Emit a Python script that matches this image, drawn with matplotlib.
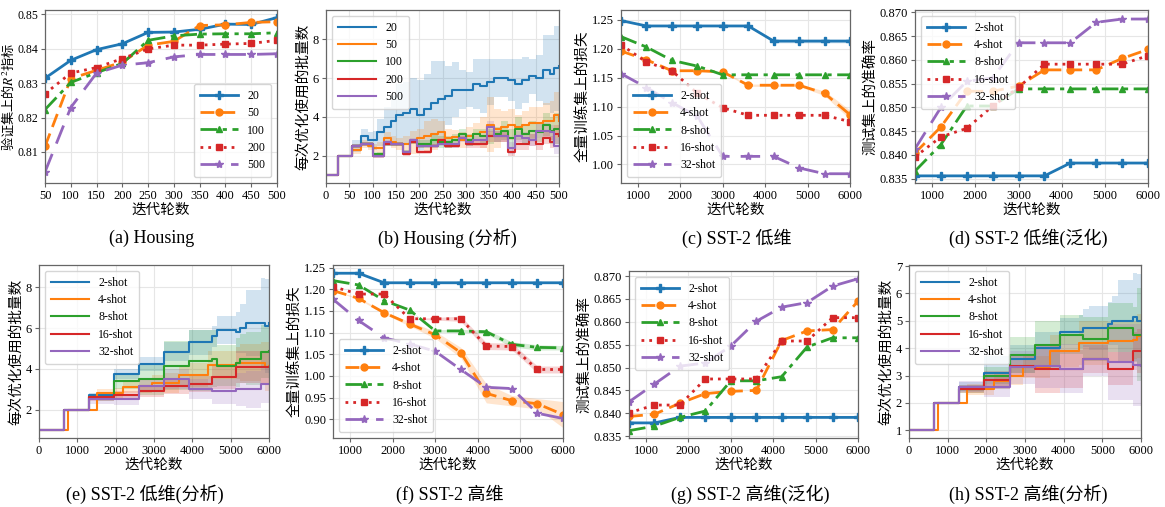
import numpy as np
import matplotlib
matplotlib.use("Agg")
from matplotlib import pyplot as plt

plt.rcParams['font.family'] = ['Liberation Serif', 'Noto Sans CJK SC', 'DejaVu Sans']
plt.rcParams['mathtext.fontset'] = 'stix'
plt.rcParams['axes.unicode_minus'] = False

C = ['#1f77b4', '#ff7f0e', '#2ca02c', '#d62728', '#9467bd']
MK = ['P', 'o', '^', 's', '*']
LS = ['-', (0, (5, 2.5)), (0, (6, 2, 1.5, 2)), (0, (1, 1.8)), (0, (7, 4))]

shots = ['2-shot', '4-shot', '8-shot', '16-shot', '32-shot']

# (a) Housing
a_x = [50, 100, 150, 200, 250, 300, 350, 400, 450, 500]
a_labels = ['20', '50', '100', '200', '500']
a_20 = [0.8314, 0.8366, 0.8397, 0.8414, 0.8447, 0.8448, 0.8456, 0.8471, 0.8470, 0.8490]
a_50 = [0.8116, 0.8313, 0.8337, 0.8361, 0.8410, 0.8421, 0.8467, 0.8469, 0.8476, 0.8478]
a_100 = [0.8223, 0.8302, 0.8330, 0.8357, 0.8424, 0.8437, 0.8442, 0.8443, 0.8443, 0.8446]
a_200 = [0.8269, 0.8329, 0.8345, 0.8371, 0.8399, 0.8410, 0.8410, 0.8413, 0.8415, 0.8424]
a_500 = [0.8042, 0.8229, 0.8329, 0.8352, 0.8359, 0.8376, 0.8383, 0.8383, 0.8383, 0.8385]

# (b) Housing (analysis) - step curves, mean and spread
b_x = [0, 25, 55, 75, 90, 100, 110, 125, 140, 150, 165, 180, 195, 210, 225, 240, 255,
       270, 285, 300, 315, 330, 345, 360, 375, 390, 405, 420, 435, 450, 465, 480, 490, 500]
b_20 = [1, 2, 2.5, 3.0, 2.8, 2.8, 3.2, 3.5, 3.8, 4.1, 4.2, 4.4, 4.1, 4.4, 4.7, 4.9, 5.1,
        5.4, 5.4, 5.4, 5.7, 5.6, 5.8, 6.0, 6.0, 5.9, 5.7, 5.9, 6.1, 6.0, 6.4, 6.2, 6.5, 6.6]
b_20_sd = [0, 0, 0.3, 0.4, 0.4, 0.5, 0.7, 1.0, 1.3, 1.6, 1.6, 1.6, 1.8, 1.8, 2.2, 2.0, 1.5,
           1.4, 1.0, 0.9, 1.3, 1.4, 1.2, 1.0, 1.0, 1.1, 1.3, 1.2, 0.9, 1.2, 1.8, 2.0, 2.2, 1.8]
b_50 = [1, 2, 2.3, 2.6, 2.5, 2.4, 2.4, 2.9, 2.7, 2.6, 2.6, 2.7, 2.9, 3.0, 3.1, 3.2, 2.9,
        2.95, 2.8, 3.0, 3.1, 3.2, 3.6, 3.4, 3.5, 3.6, 3.5, 3.6, 3.7, 3.7, 3.8, 3.8, 4.1, 3.8]
b_50_sd = [0, 0, 0.2, 0.2, 0.2, 0.2, 0.3, 0.3, 0.3, 0.3, 0.4, 0.6, 0.5, 0.8, 0.8, 0.6, 0.5,
           0.4, 0.4, 0.5, 0.6, 0.8, 1.4, 1.0, 0.8, 0.8, 0.6, 0.7, 0.8, 0.8, 0.9, 1.0, 1.2, 1.4]
b_100 = [1, 2, 2.5, 2.6, 2.6, 2.1, 2.1, 2.6, 2.6, 2.6, 2.2, 2.7, 2.6, 2.6, 2.8, 2.7, 2.7,
         2.8, 3.1, 2.8, 3.1, 3.0, 3.0, 3.1, 3.3, 2.9, 3.4, 3.1, 3.3, 3.2, 3.6, 3.3, 3.4, 3.4]
b_100_sd = [0, 0, 0.1, 0.1, 0.1, 0.1, 0.1, 0.1, 0.1, 0.1, 0.1, 0.1, 0.2, 0.2, 0.3, 0.3, 0.3,
            0.3, 0.3, 0.3, 0.3, 0.4, 0.4, 0.4, 0.5, 0.5, 0.6, 0.5, 0.5, 0.5, 0.6, 0.7, 0.8, 0.8]
b_200 = [1, 2, 2.5, 2.6, 2.6, 2.0, 2.0, 2.6, 2.6, 2.6, 2.1, 2.7, 2.2, 2.2, 2.5, 2.8, 2.5,
         2.5, 2.9, 2.6, 2.6, 2.6, 3.0, 3.0, 3.0, 2.2, 2.6, 2.6, 2.8, 2.6, 2.9, 2.7, 3.1, 3.0]
b_200_sd = [0, 0, 0.1, 0.1, 0.1, 0.1, 0.1, 0.1, 0.1, 0.1, 0.1, 0.1, 0.1, 0.1, 0.1, 0.1, 0.1,
            0.1, 0.1, 0.2, 0.2, 0.2, 0.3, 0.3, 0.3, 0.2, 0.3, 0.3, 0.3, 0.3, 0.3, 0.3, 0.5, 0.5]
b_500 = [1, 2, 2.5, 2.6, 2.6, 2.0, 2.0, 2.7, 2.6, 2.6, 2.2, 2.8, 2.5, 2.5, 2.5, 2.6, 2.6,
         2.6, 2.9, 2.7, 2.8, 2.8, 3.5, 3.0, 3.0, 2.4, 3.0, 2.9, 2.8, 3.3, 3.3, 3.2, 2.5, 2.5]
b_500_sd = [0, 0, 0.1, 0.1, 0.1, 0.1, 0.1, 0.1, 0.1, 0.1, 0.1, 0.1, 0.1, 0.1, 0.1, 0.1, 0.2,
            0.2, 0.2, 0.2, 0.2, 0.2, 0.3, 0.3, 0.3, 0.3, 0.3, 0.3, 0.3, 0.4, 0.4, 0.4, 0.4, 0.4]

# shared iteration axis for SST-2 marker panels
it_x = [600, 1200, 1800, 2400, 3000, 3600, 4200, 4800, 5400, 6000]

# (c) SST-2 low-dim, training loss
c_2 = [1.2487, 1.2394, 1.2394, 1.2394, 1.2394, 1.2394, 1.2133, 1.2133, 1.2133, 1.2133]
c_4 = [1.196, 1.181, 1.162, 1.162, 1.160, 1.137, 1.137, 1.137, 1.123, 1.086]
c_8 = [1.221, 1.203, 1.180, 1.170, 1.155, 1.155, 1.155, 1.155, 1.155, 1.155]
c_16 = [1.207, 1.177, 1.162, 1.123, 1.098, 1.085, 1.085, 1.085, 1.085, 1.074]
c_32 = [1.157, 1.133, 1.107, 1.083, 1.014, 1.014, 1.014, 0.994, 0.984, 0.984]
c_2_sd = [0, 0, 0, 0, 0, 0.001, 0.003, 0.003, 0.003, 0.003]
c_4_sd = [0, 0, 0, 0, 0.001, 0.002, 0.002, 0.002, 0.004, 0.008]

# (d) SST-2 low-dim, test accuracy
d_2 = [0.8356, 0.8356, 0.8356, 0.8356, 0.8356, 0.8356, 0.8383, 0.8383, 0.8383, 0.8383]
d_4 = [0.8404, 0.8459, 0.8534, 0.8534, 0.8545, 0.8579, 0.8579, 0.8579, 0.8603, 0.8622]
d_8 = [0.8366, 0.8422, 0.8503, 0.8503, 0.8539, 0.8539, 0.8539, 0.8539, 0.8539, 0.8539]
d_16 = [0.8396, 0.8438, 0.8456, 0.8503, 0.8542, 0.8591, 0.8591, 0.8591, 0.8591, 0.8609]
d_32 = [0.8413, 0.8500, 0.8555, 0.8562, 0.8636, 0.8636, 0.8636, 0.8679, 0.8686, 0.8686]

# (e)/(h) step grid
s_x = [0, 650, 750, 1300, 1500, 1950, 2200, 2600, 2950, 3250, 3650, 3900, 4400, 4500,
       4650, 5150, 5250, 5400, 5800, 5900, 6000]

# (e) SST-2 low-dim (analysis)
e_2 = [1, 2, 2, 2.7, 2.7, 3.75, 3.75, 4.25, 4.25, 4.85, 4.85, 5.3, 5.3, 5.6, 5.9, 5.8, 6.0, 6.25, 6.25, 6.1, 6.25]
e_4 = [1, 1, 2, 2, 2.8, 2.8, 3.1, 3.15, 3.3, 3.3, 3.7, 3.7, 4.2, 4.2, 4.2, 4.3, 4.3, 4.3, 4.3, 4.1, 4.15]
e_8 = [1, 2, 2, 2.6, 2.6, 3.4, 3.4, 3.5, 3.5, 4.15, 4.15, 4.4, 4.4, 4.5, 4.15, 4.3, 4.5, 4.5, 4.85, 4.85, 4.9]
e_16 = [1, 2, 2, 2.6, 2.6, 2.7, 2.7, 2.9, 2.9, 3.15, 3.15, 3.25, 3.25, 3.6, 3.6, 4.1, 4.1, 4.1, 4.1, 4.1, 4.1]
e_32 = [1, 2, 2, 2.5, 2.5, 2.5, 2.5, 3.15, 3.15, 3.5, 3.5, 3.0, 3.0, 2.9, 2.9, 3.0, 3.0, 3.0, 3.25, 3.25, 3.25]
e_2_sd = [0, 0, 0, 0.12, 0.12, 0.25, 0.25, 0.35, 0.35, 0.45, 0.45, 0.6, 0.6, 0.5, 0.7, 1.0, 1.2, 1.6, 2.2, 2.3, 2.3]
e_4_sd = [0, 0, 0, 0, 0.2, 0.25, 0.3, 0.35, 0.4, 0.5, 0.5, 0.6, 0.7, 0.7, 0.7, 0.8, 0.9, 0.9, 1.0, 1.2, 1.2]
e_8_sd = [0, 0, 0, 0.1, 0.15, 0.4, 0.4, 0.8, 0.8, 1.2, 1.2, 1.5, 1.5, 1.4, 1.0, 1.2, 1.2, 1.3, 1.3, 1.3, 1.3]
e_16_sd = [0, 0, 0, 0.15, 0.15, 0.2, 0.2, 0.3, 0.3, 0.4, 0.4, 0.4, 0.4, 0.6, 0.6, 0.8, 0.8, 0.8, 0.8, 0.8, 0.8]
e_32_sd = [0, 0, 0, 0.2, 0.2, 0.25, 0.25, 0.3, 0.3, 0.5, 0.5, 0.5, 0.5, 0.6, 0.6, 0.8, 0.8, 0.9, 0.9, 0.9, 0.9]

# (f) SST-2 high-dim, training loss
f_2 = [1.237, 1.237, 1.215, 1.215, 1.215, 1.215, 1.215, 1.215, 1.215, 1.215]
f_4 = [1.197, 1.179, 1.146, 1.120, 1.095, 1.054, 0.960, 0.943, 0.936, 0.911]
f_8 = [1.220, 1.210, 1.174, 1.152, 1.104, 1.104, 1.102, 1.073, 1.066, 1.065]
f_16 = [1.206, 1.189, 1.189, 1.132, 1.132, 1.132, 1.069, 1.068, 1.015, 1.015]
f_32 = [1.177, 1.128, 1.088, 1.074, 1.057, 1.015, 0.974, 0.971, 0.914, 0.902]
f_4_sd = [0, 0.002, 0.003, 0.005, 0.008, 0.012, 0.022, 0.012, 0.012, 0.03]
f_8_sd = [0, 0, 0, 0, 0.003, 0.003, 0.005, 0.006, 0.006, 0.005]
f_16_sd = [0, 0, 0, 0, 0.003, 0.006, 0.008, 0.008, 0.008, 0.008]

# (g) SST-2 high-dim, test accuracy
g_2 = [0.8379, 0.8379, 0.8391, 0.8391, 0.8391, 0.8391, 0.8391, 0.8391, 0.8391, 0.8391]
g_4 = [0.8393, 0.8398, 0.8422, 0.8443, 0.8448, 0.8450, 0.8559, 0.8580, 0.8583, 0.8645]
g_8 = [0.8362, 0.8372, 0.8391, 0.8405, 0.8471, 0.8471, 0.8480, 0.8545, 0.8565, 0.8565]
g_16 = [0.8401, 0.8418, 0.8418, 0.8475, 0.8475, 0.8475, 0.8558, 0.8558, 0.8609, 0.8609]
g_32 = [0.8425, 0.8464, 0.8503, 0.8510, 0.8547, 0.8601, 0.8632, 0.8642, 0.8678, 0.8694]

# (h) SST-2 high-dim (analysis)
h_2 = [1, 2, 2, 2.6, 2.6, 3.1, 3.1, 3.6, 3.6, 4.0, 4.0, 4.6, 4.6, 4.75, 4.75, 4.9, 5.0, 5.0, 5.15, 5.0, 5.0]
h_4 = [1, 1, 2, 2, 2.5, 2.5, 2.8, 3.0, 3.3, 3.3, 3.9, 3.9, 4.2, 4.2, 4.2, 4.25, 4.25, 4.25, 4.3, 4.45, 4.45]
h_8 = [1, 2, 2, 2.5, 2.5, 3.0, 3.0, 3.75, 3.75, 4.1, 4.1, 4.5, 4.5, 4.35, 4.35, 4.75, 4.75, 4.75, 4.5, 4.5, 4.5]
h_16 = [1, 2, 2, 2.5, 2.5, 2.85, 2.85, 3.35, 3.35, 3.25, 3.25, 3.25, 3.25, 3.6, 3.6, 3.25, 3.25, 3.25, 3.9, 3.9, 3.9]
h_32 = [1, 2, 2, 2.6, 2.6, 2.6, 2.6, 3.3, 3.3, 3.35, 3.35, 3.25, 3.25, 3.6, 3.6, 3.5, 3.5, 3.5, 3.4, 3.4, 3.35]
h_2_sd = [0, 0, 0, 0.15, 0.15, 0.6, 0.6, 0.5, 0.5, 0.6, 0.6, 0.5, 0.6, 0.7, 0.8, 0.8, 0.9, 1.5, 1.6, 1.7, 1.7]
h_4_sd = [0, 0, 0, 0, 0.2, 0.2, 0.3, 0.35, 0.4, 0.4, 0.6, 0.6, 0.8, 0.8, 0.8, 0.7, 0.7, 0.7, 0.7, 0.8, 0.8]
h_8_sd = [0, 0, 0, 0.15, 0.15, 0.3, 0.3, 0.65, 0.65, 0.9, 0.9, 0.7, 0.7, 0.8, 0.8, 0.9, 0.9, 0.9, 1.0, 1.7, 1.7]
h_16_sd = [0, 0, 0, 0.15, 0.15, 0.3, 0.3, 0.4, 0.4, 0.9, 0.9, 0.7, 0.7, 0.5, 0.5, 0.6, 0.6, 0.6, 0.7, 0.8, 0.8]
h_32_sd = [0, 0, 0, 0.2, 0.2, 0.4, 0.4, 0.6, 0.6, 0.8, 0.8, 0.9, 0.9, 0.6, 0.6, 1.4, 1.4, 1.4, 1.5, 1.5, 1.5]

captions = ['(a) Housing', '(b) Housing (分析)', '(c) SST-2 低维', '(d) SST-2 低维(泛化)',
            '(e) SST-2 低维(分析)', '(f) SST-2 高维', '(g) SST-2 高维(泛化)', '(h) SST-2 高维(分析)']

W, H = 1165, 507
fig = plt.figure(figsize=(W / 100, H / 100), dpi=100)


def make_ax(l, r, t, b):
    ax = fig.add_axes([l / W, 1 - b / H, (r - l) / W, (b - t) / H])
    ax.grid(True, color='#e6e6e6', lw=0.8)
    ax.set_axisbelow(True)
    for s in ax.spines.values():
        s.set_color('#666666')
        s.set_linewidth(0.9)
    ax.tick_params(labelsize=9, length=3, width=0.8, color='#666666', pad=2)
    ax.set_xlabel('迭代轮数', fontsize=10.5, labelpad=1)
    return ax


def marker_panel(ax, x, ys, labels, sds=None, loc='lower left'):
    for i, y in enumerate(ys):
        ax.plot(x, y, color=C[i], marker=MK[i], ls=LS[i], lw=2,
                ms=6 if MK[i] in ('P', '*') else 5, label=labels[i])
        if sds is not None and sds[i] is not None:
            y = np.array(y)
            sd = np.array(sds[i])
            ax.fill_between(x, y - sd, y + sd, color=C[i], alpha=0.2, lw=0)
    ax.legend(loc=loc, fontsize=8.5, handlelength=3.2, borderpad=0.5,
              labelspacing=0.45, edgecolor='#cccccc', fancybox=True)


def step_panel(ax, x, ys, sds, labels):
    for i, y in enumerate(ys):
        y = np.array(y)
        sd = np.array(sds[i])
        ax.fill_between(x, y - sd, y + sd, step='post', color=C[i], alpha=0.2, lw=0)
        ax.step(x, y, where='post', color=C[i], lw=1.5, label=labels[i])
    ax.legend(loc='upper left', fontsize=8.5, handlelength=3.2, borderpad=0.5,
              labelspacing=0.45, edgecolor='#cccccc', fancybox=True)


# (a)
ax = make_ax(45, 277, 10, 183)
marker_panel(ax, a_x, [a_20, a_50, a_100, a_200, a_500], a_labels, loc='lower right')
ax.set_xlim(50, 500)
ax.set_ylim(0.801, 0.8512)
ax.set_xticks(a_x)
ax.set_yticks([0.81, 0.82, 0.83, 0.84, 0.85])
ax.tick_params(axis='y', labelsize=8.5)
ax.set_ylabel('验证集上的$R^2$指标', fontsize=9.5, family=['Noto Sans CJK SC'])
ax.yaxis.set_label_coords(-0.125, 0.5)

# (b)
ax = make_ax(326, 559, 10, 183)
step_panel(ax, b_x, [b_20, b_50, b_100, b_200, b_500],
           [b_20_sd, b_50_sd, b_100_sd, b_200_sd, b_500_sd], a_labels)
ax.set_xlim(0, 500)
ax.set_ylim(0.6, 9.5)
ax.set_xticks(range(0, 501, 50))
ax.set_yticks([2, 4, 6, 8])
ax.set_ylabel('每次优化使用的批量数', fontsize=10.5, labelpad=2)

# (c)
ax = make_ax(621, 850, 10, 183)
marker_panel(ax, it_x, [c_2, c_4, c_8, c_16, c_32], shots,
             sds=[c_2_sd, c_4_sd, None, None, None], loc='lower left')
ax.set_xlim(600, 6000)
ax.set_ylim(0.968, 1.267)
ax.set_xticks(range(1000, 6001, 1000))
ax.set_yticks([1.00, 1.05, 1.10, 1.15, 1.20, 1.25])
ax.yaxis.set_major_formatter('{x:.2f}')
ax.set_ylabel('全量训练集上的损失', fontsize=10.5, labelpad=2)

# (d)
ax = make_ax(915, 1148, 10, 183)
marker_panel(ax, it_x, [d_2, d_4, d_8, d_16, d_32], shots, loc='upper left')
ax.set_xlim(600, 6000)
ax.set_ylim(0.8341, 0.8705)
ax.set_xticks(range(1000, 6001, 1000))
ax.set_yticks([0.835, 0.840, 0.845, 0.850, 0.855, 0.860, 0.865, 0.870])
ax.yaxis.set_major_formatter('{x:.3f}')
ax.set_ylabel('测试集上的准确率', fontsize=10.5, labelpad=2)

# (e)
ax = make_ax(39, 269, 265, 438)
step_panel(ax, s_x, [e_2, e_4, e_8, e_16, e_32],
           [e_2_sd, e_4_sd, e_8_sd, e_16_sd, e_32_sd], shots)
ax.set_xlim(0, 6000)
ax.set_ylim(0.61, 9.1)
ax.set_xticks(range(0, 6001, 1000))
ax.set_yticks([2, 4, 6, 8])
ax.set_ylabel('每次优化使用的批量数', fontsize=10.5, labelpad=2)

# (f)
ax = make_ax(333, 563, 265, 438)
marker_panel(ax, it_x, [f_2, f_4, f_8, f_16, f_32], shots,
             sds=[None, f_4_sd, f_8_sd, f_16_sd, None], loc='lower left')
ax.set_xlim(600, 6000)
ax.set_ylim(0.857, 1.256)
ax.set_xticks(range(1000, 6001, 1000))
ax.set_yticks([0.90, 0.95, 1.00, 1.05, 1.10, 1.15, 1.20, 1.25])
ax.yaxis.set_major_formatter('{x:.2f}')
ax.set_ylabel('全量训练集上的损失', fontsize=10.5, labelpad=2)

# (g)
ax = make_ax(629, 858, 271, 438)
marker_panel(ax, it_x, [g_2, g_4, g_8, g_16, g_32], shots, loc='upper left')
ax.set_xlim(600, 6000)
ax.set_ylim(0.8346, 0.8711)
ax.set_xticks(range(1000, 6001, 1000))
ax.set_yticks([0.835, 0.840, 0.845, 0.850, 0.855, 0.860, 0.865, 0.870])
ax.yaxis.set_major_formatter('{x:.3f}')
ax.set_ylabel('测试集上的准确率', fontsize=10.5, labelpad=2)

# (h)
ax = make_ax(909, 1141, 265, 438)
step_panel(ax, s_x, [h_2, h_4, h_8, h_16, h_32],
           [h_2_sd, h_4_sd, h_8_sd, h_16_sd, h_32_sd], shots)
ax.set_xlim(0, 6000)
ax.set_ylim(0.72, 7.04)
ax.set_xticks(range(0, 6001, 1000))
ax.set_yticks([1, 2, 3, 4, 5, 6, 7])
ax.set_ylabel('每次优化使用的批量数', fontsize=10.5, labelpad=2)

# captions
cap_pos = [(152, 238), (447, 238), (737, 238), (1028, 238),
           (145, 494), (450, 494), (750, 494), (1028, 494)]
for (cx, cy), txt in zip(cap_pos, captions):
    fig.text(cx / W, 1 - cy / H, txt, ha='center', va='center', fontsize=13)

fig.savefig('out.png', dpi=100)
